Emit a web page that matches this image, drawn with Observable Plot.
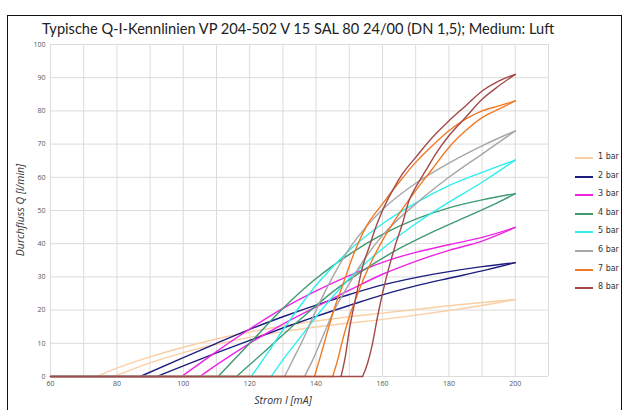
<!DOCTYPE html>
<html>
<head>
<meta charset="utf-8">
<script src="https://cdn.jsdelivr.net/npm/d3@7"></script>
<script src="https://cdn.jsdelivr.net/npm/@observablehq/plot@0.6"></script>
<style>
  html, body { margin: 0; padding: 0; background: #fff; }
  #wrap { position: relative; width: 630px; height: 410px; overflow: hidden; font-family: "Open Sans", sans-serif; }
  #frame { position: absolute; left: 7px; top: 15px; width: 615px; height: 420px; border: 1px solid #111; box-sizing: border-box; pointer-events: none; }
  #title { position: absolute; left: 42px; top: 20px; font-family: Lato, sans-serif; font-size: 14.6px; color: #222; white-space: nowrap; }
  #legend { position: absolute; left: 575px; top: 152px; font-size: 8px; color: #333; font-family: "DejaVu Sans", sans-serif; }
  .row { position: absolute; left: 0; height: 12px; white-space: nowrap; }
  .sw { position: absolute; left: 0; top: 5px; width: 18px; height: 2px; }
  .lb { position: absolute; left: 23px; top: 0; }
  .axlab { position: absolute; font-style: italic; font-size: 10.5px; color: #333; white-space: nowrap; }
</style>
</head>
<body>
<div id="wrap">
  <div id="chart"></div>
  <div id="frame"></div>
  <div id="title">Typische Q-I-Kennlinien VP 204-502 V 15 SAL 80 24/00 (DN 1,5); Medium: Luft</div>
  <div id="legend"></div>
  <div class="axlab" id="xlab" style="left:0; top:393px; width:566px; text-align:center;">Strom I [mA]</div>
  <div class="axlab" id="ylab" style="left:20px; top:210px; transform: translate(-50%,-50%) rotate(-90deg);">Durchfluss Q [l/min]</div>
</div>
<script>
// ---- Data ----
const seriesNames = ["1 bar", "2 bar", "3 bar", "4 bar", "5 bar", "6 bar", "7 bar", "8 bar"];
const seriesColors = ["#f9cfa6", "#1e1e80", "#ee24e4", "#3e9a72", "#30eeee", "#a6a6a6", "#f07a24", "#a24a4a"];
const xTicks = [60, 80, 100, 120, 140, 160, 180, 200];
const xGrid = [60, 70, 80, 90, 100, 110, 120, 130, 140, 150, 160, 170, 180, 190, 200, 210];
const yTicks = [0, 10, 20, 30, 40, 50, 60, 70, 80, 90, 100];

// branch A = left (lower current start), branch B = right (higher current start); [I mA, Q l/min]
const bar1A = [[74,0],[80,2.5],[90,5.9],[100,8.8],[110,11.3],[120,13.4],[130,15.2],[140,16.7],[150,18.0],[160,19.1],[170,20.2],[180,21.3],[190,22.3],[200,23.2]];
const bar1B = [[79,0],[85,2.3],[90,4.1],[100,7.2],[110,9.7],[120,11.8],[130,13.5],[140,14.9],[150,16.1],[160,17.2],[170,18.5],[180,19.9],[190,21.4],[200,23.2]];
const bar2A = [[87,0],[100,5.7],[110,10.0],[120,14.2],[130,18.0],[140,21.5],[150,24.7],[160,27.6],[170,29.8],[180,31.6],[190,33.1],[200,34.3]];
const bar2B = [[92,0],[100,3.2],[110,7.1],[120,10.9],[130,14.6],[140,18.1],[150,21.4],[160,24.6],[170,27.3],[180,29.6],[190,31.8],[200,34.3]];
const bar3A = [[99.5,0],[110,7.5],[120,14.3],[130,20.5],[140,25.8],[150,30.4],[160,34.4],[170,37.4],[180,39.7],[190,41.9],[200,44.9]];
const bar3B = [[105,0],[110,3.5],[120,10.0],[130,15.8],[140,21.0],[150,26.0],[160,30.8],[170,34.7],[180,38.0],[190,40.8],[200,44.9]];
const bar4A = [[110.5,0],[120,10.0],[130,20.5],[140,29.5],[150,36.8],[160,42.8],[170,47.4],[180,50.8],[190,53.2],[200,55.1]];
const bar4B = [[116,0],[125,8.0],[135,17.0],[145,25.5],[155,32.5],[165,38.5],[175,43.5],[185,48.0],[195,52.5],[200,55.1]];
const bar5A = [[120.5,0],[125,6.5],[130,14.0],[135,21.0],[140,27.5],[145,33.0],[150,38.0],[160,46.0],[170,52.3],[180,57.5],[190,61.5],[200,65.2]];
const bar5B = [[126.5,0],[130,5.0],[135,11.5],[140,18.0],[145,24.0],[150,29.5],[160,38.5],[170,46.0],[180,52.5],[190,58.5],[200,65.2]];
const bar6A = [[130.5,0],[133,5],[136,11],[140,20],[145,30],[150,38.5],[155,45.0],[160,50.3],[170,58.2],[180,64.3],[190,69.5],[200,74.0]];
const bar6B = [[136.5,0],[139,5],[142,12],[145,19],[150,28],[155,36],[160,42.5],[170,52.0],[180,60.0],[190,67.0],[200,74.0]];
const bar7A = [[139.5,0],[141,5],[143,12],[145,19],[148,27.5],[151,36],[155,45],[160,52],[165,58.5],[170,64.5],[175,69.5],[180,74],[185,77.5],[190,80],[195,81.5],[200,83]];
const bar7B = [[145,0],[146.5,5],[148,11],[150,18],[152,23.5],[155,31],[160,41],[165,49],[170,56],[175,62.5],[180,69],[185,74],[190,78],[195,80.5],[200,83]];
const bar8A = [[147.5,0],[148.8,6],[150,14],[152,24],[154,33],[156,39],[158,45],[160,50],[163,56],[166,61],[170,66],[175,72],[180,77],[185,81.5],[190,86],[195,89],[200,91]];
const bar8B = [[154,0],[155.5,4],[157,10],[158.5,18],[160,25],[162,33],[164,40],[166,46],[168,53],[170,57],[173,62],[176,67],[180,72.5],[185,78],[190,83.5],[195,87.5],[200,91]];

const branchesA = [bar1A, bar2A, bar3A, bar4A, bar5A, bar6A, bar7A, bar8A];
const branchesB = [bar1B, bar2B, bar3B, bar4B, bar5B, bar6B, bar7B, bar8B];

// Each series: baseline (Q = 0 from 60 mA to the later start), plus two hysteresis branches
const rows = [];
seriesNames.forEach((name, i) => {
  rows.push({series: name, part: name + "-0", I: 60, Q: 0});
  rows.push({series: name, part: name + "-0", I: branchesB[i][0][0], Q: 0});
  branchesA[i].forEach(([I, Q]) => rows.push({series: name, part: name + "-A", I, Q}));
  branchesB[i].forEach(([I, Q]) => rows.push({series: name, part: name + "-B", I, Q}));
});

const chart = Plot.plot({
  width: 630,
  height: 410,
  marginLeft: 50,
  marginRight: 82,
  marginTop: 44,
  marginBottom: 34,
  style: {fontFamily: "Open Sans, sans-serif", fontSize: "7px", color: "#555", background: "#fff"},
  x: {domain: [60, 210], ticks: xTicks, tickSize: 0, tickPadding: 5, label: null},
  y: {domain: [0, 100], ticks: yTicks, tickSize: 0, tickPadding: 5, label: null},
  color: {domain: seriesNames, range: seriesColors},
  marks: [
    Plot.ruleX(xGrid, {stroke: "#dcdcdc", strokeWidth: 1}),
    Plot.ruleY(yTicks, {stroke: "#dcdcdc", strokeWidth: 1}),
    Plot.line(rows, {x: "I", y: "Q", z: "part", stroke: "series", strokeWidth: 1.4, curve: "monotone-x", strokeLinejoin: "round"})
  ]
});
document.getElementById("chart").appendChild(chart);

// Legend
const leg = document.getElementById("legend");
seriesNames.forEach((name, i) => {
  const r = document.createElement("div");
  r.className = "row";
  r.style.top = (i * 18.6) + "px";
  r.innerHTML = `<div class="sw" style="background:${seriesColors[i]}"></div><div class="lb">${name}</div>`;
  leg.appendChild(r);
});
</script>
</body>
</html>
